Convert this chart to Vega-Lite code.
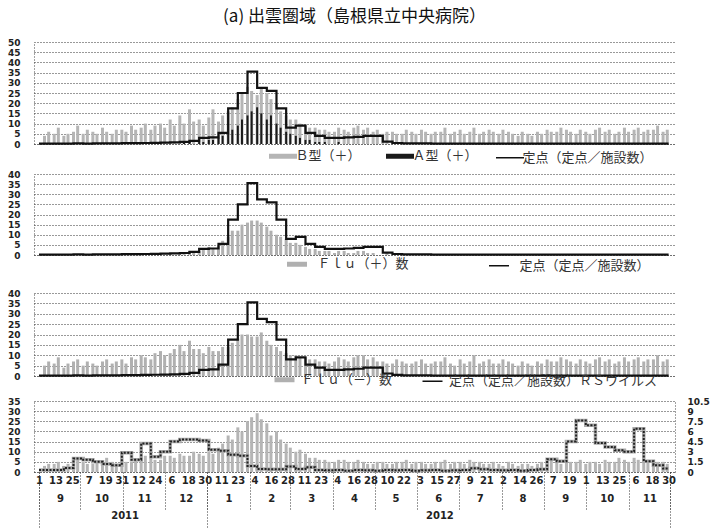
{
  "$schema": "https://vega.github.io/schema/vega-lite/v6.json",
  "padding": {"left": 7, "top": 8, "right": 0, "bottom": 0},
  "spacing": 0,
  "background": "white",
  "config": {
    "view": {"stroke": null},
    "axis": {"labelFont": "DejaVu Sans", "labelFontWeight": "bold", "labelFontSize": 9, "labelColor": "#222", "ticks": false, "domainColor": "#444", "domainDash": [1, 2], "labelOverlap": false},
    "legend": {"labelFont": "Noto Sans CJK JP", "labelFontSize": 13, "labelColor": "#333", "symbolType": "stroke", "orient": "none", "direction": "horizontal", "labelLimit": 400}
  },
  "resolve": {"scale": {"color": "independent", "x": "independent", "y": "independent"}, "legend": {"color": "independent"}},
  "datasets": {
    "bars": [
      {"d":"2011-09-05","b":4,"a":0,"p":0,"n":5,"m":3},{"d":"2011-09-08","b":6,"a":0,"p":0,"n":7,"m":4},
      {"d":"2011-09-12","b":5,"a":0,"p":0,"n":6,"m":4},{"d":"2011-09-15","b":8,"a":0,"p":0,"n":9,"m":5},
      {"d":"2011-09-19","b":4,"a":0,"p":0,"n":4,"m":3},{"d":"2011-09-22","b":5,"a":0,"p":0,"n":6,"m":4},
      {"d":"2011-09-26","b":6,"a":0,"p":0,"n":7,"m":4},{"d":"2011-09-29","b":9,"a":0,"p":0,"n":8,"m":6},
      {"d":"2011-10-03","b":5,"a":0,"p":0,"n":5,"m":5},{"d":"2011-10-06","b":7,"a":0,"p":0,"n":7,"m":4},
      {"d":"2011-10-10","b":6,"a":0,"p":0,"n":6,"m":4},{"d":"2011-10-13","b":5,"a":0,"p":0,"n":5,"m":5},
      {"d":"2011-10-17","b":8,"a":0,"p":0,"n":7,"m":5},{"d":"2011-10-20","b":6,"a":0,"p":0,"n":8,"m":7},
      {"d":"2011-10-24","b":5,"a":0,"p":0,"n":6,"m":5},{"d":"2011-10-27","b":7,"a":0,"p":0,"n":7,"m":4},
      {"d":"2011-10-31","b":7,"a":0,"p":0,"n":8,"m":6},{"d":"2011-11-03","b":6,"a":0,"p":0,"n":6,"m":5},
      {"d":"2011-11-07","b":9,"a":0,"p":0,"n":9,"m":5},{"d":"2011-11-10","b":7,"a":0,"p":0,"n":8,"m":6},
      {"d":"2011-11-14","b":8,"a":0,"p":0,"n":10,"m":6},{"d":"2011-11-17","b":10,"a":0,"p":0,"n":9,"m":8},
      {"d":"2011-11-21","b":7,"a":0,"p":0,"n":8,"m":7},{"d":"2011-11-24","b":9,"a":0,"p":0,"n":11,"m":6},
      {"d":"2011-11-28","b":10,"a":0,"p":0,"n":12,"m":6},{"d":"2011-12-01","b":8,"a":0,"p":0,"n":10,"m":8},
      {"d":"2011-12-05","b":12,"a":0,"p":1,"n":11,"m":8},{"d":"2011-12-08","b":9,"a":0,"p":0,"n":13,"m":7},
      {"d":"2011-12-12","b":14,"a":0,"p":1,"n":15,"m":9},{"d":"2011-12-15","b":10,"a":1,"p":1,"n":12,"m":8},
      {"d":"2011-12-19","b":17,"a":1,"p":2,"n":17,"m":8},{"d":"2011-12-22","b":11,"a":0,"p":1,"n":13,"m":10},
      {"d":"2011-12-26","b":12,"a":1,"p":2,"n":13,"m":9},{"d":"2011-12-29","b":9,"a":1,"p":3,"n":11,"m":8},
      {"d":"2012-01-02","b":13,"a":2,"p":4,"n":14,"m":10},{"d":"2012-01-05","b":17,"a":2,"p":3,"n":12,"m":9},
      {"d":"2012-01-09","b":11,"a":3,"p":5,"n":12,"m":12},{"d":"2012-01-12","b":14,"a":4,"p":7,"n":14,"m":14},
      {"d":"2012-01-16","b":16,"a":5,"p":9,"n":14,"m":18},{"d":"2012-01-19","b":18,"a":7,"p":12,"n":16,"m":16},
      {"d":"2012-01-23","b":22,"a":9,"p":12,"n":18,"m":22},{"d":"2012-01-26","b":25,"a":12,"p":15,"n":20,"m":20},
      {"d":"2012-01-30","b":28,"a":14,"p":16,"n":20,"m":25},{"d":"2012-02-02","b":26,"a":16,"p":17,"n":19,"m":27},
      {"d":"2012-02-06","b":24,"a":18,"p":17,"n":19,"m":29},{"d":"2012-02-09","b":27,"a":15,"p":16,"n":21,"m":26},
      {"d":"2012-02-13","b":25,"a":12,"p":14,"n":17,"m":24},{"d":"2012-02-16","b":22,"a":14,"p":12,"n":15,"m":18},
      {"d":"2012-02-20","b":20,"a":10,"p":10,"n":14,"m":20},{"d":"2012-02-23","b":16,"a":8,"p":9,"n":12,"m":16},
      {"d":"2012-02-27","b":14,"a":6,"p":8,"n":11,"m":14},{"d":"2012-03-01","b":12,"a":5,"p":6,"n":10,"m":12},
      {"d":"2012-03-05","b":12,"a":4,"p":6,"n":10,"m":10},{"d":"2012-03-08","b":10,"a":3,"p":5,"n":9,"m":11},
      {"d":"2012-03-12","b":9,"a":2,"p":4,"n":9,"m":9},{"d":"2012-03-15","b":8,"a":2,"p":3,"n":8,"m":7},
      {"d":"2012-03-19","b":8,"a":1,"p":3,"n":8,"m":7},{"d":"2012-03-22","b":7,"a":1,"p":2,"n":7,"m":6},
      {"d":"2012-03-26","b":7,"a":1,"p":2,"n":7,"m":6},{"d":"2012-03-29","b":6,"a":0,"p":2,"n":6,"m":5},
      {"d":"2012-04-02","b":6,"a":0,"p":1,"n":7,"m":5},{"d":"2012-04-05","b":8,"a":1,"p":2,"n":9,"m":6},
      {"d":"2012-04-09","b":7,"a":0,"p":2,"n":8,"m":6},{"d":"2012-04-12","b":6,"a":0,"p":1,"n":7,"m":5},
      {"d":"2012-04-16","b":8,"a":0,"p":1,"n":9,"m":5},{"d":"2012-04-19","b":9,"a":0,"p":2,"n":10,"m":6},
      {"d":"2012-04-23","b":7,"a":0,"p":2,"n":10,"m":5},{"d":"2012-04-26","b":8,"a":0,"p":1,"n":8,"m":4},
      {"d":"2012-04-30","b":6,"a":0,"p":1,"n":9,"m":4},{"d":"2012-05-03","b":7,"a":0,"p":0,"n":7,"m":5},
      {"d":"2012-05-07","b":5,"a":0,"p":0,"n":7,"m":5},{"d":"2012-05-10","b":6,"a":0,"p":1,"n":6,"m":4},
      {"d":"2012-05-14","b":6,"a":0,"p":0,"n":6,"m":4},{"d":"2012-05-17","b":5,"a":0,"p":0,"n":8,"m":5},
      {"d":"2012-05-21","b":5,"a":0,"p":0,"n":7,"m":5},{"d":"2012-05-24","b":7,"a":0,"p":0,"n":6,"m":6},
      {"d":"2012-05-28","b":6,"a":0,"p":0,"n":6,"m":4},{"d":"2012-05-31","b":5,"a":0,"p":0,"n":7,"m":5},
      {"d":"2012-06-04","b":7,"a":0,"p":0,"n":8,"m":5},{"d":"2012-06-07","b":6,"a":0,"p":0,"n":6,"m":4},
      {"d":"2012-06-11","b":5,"a":0,"p":0,"n":6,"m":4},{"d":"2012-06-14","b":6,"a":0,"p":0,"n":7,"m":5},
      {"d":"2012-06-18","b":6,"a":0,"p":0,"n":7,"m":5},{"d":"2012-06-21","b":8,"a":0,"p":0,"n":9,"m":6},
      {"d":"2012-06-25","b":5,"a":0,"p":0,"n":6,"m":4},{"d":"2012-06-28","b":6,"a":0,"p":0,"n":5,"m":5},
      {"d":"2012-07-02","b":7,"a":0,"p":0,"n":8,"m":5},{"d":"2012-07-05","b":5,"a":0,"p":0,"n":6,"m":4},
      {"d":"2012-07-09","b":6,"a":0,"p":0,"n":7,"m":6},{"d":"2012-07-12","b":8,"a":0,"p":0,"n":10,"m":5},
      {"d":"2012-07-16","b":5,"a":0,"p":0,"n":6,"m":5},{"d":"2012-07-19","b":6,"a":0,"p":0,"n":7,"m":4},
      {"d":"2012-07-23","b":7,"a":0,"p":0,"n":8,"m":4},{"d":"2012-07-26","b":6,"a":0,"p":0,"n":6,"m":5},
      {"d":"2012-07-30","b":5,"a":0,"p":0,"n":6,"m":4},{"d":"2012-08-02","b":7,"a":0,"p":0,"n":8,"m":3},
      {"d":"2012-08-06","b":6,"a":0,"p":0,"n":7,"m":5},{"d":"2012-08-09","b":5,"a":0,"p":0,"n":6,"m":4},
      {"d":"2012-08-13","b":4,"a":0,"p":0,"n":5,"m":3},{"d":"2012-08-16","b":6,"a":0,"p":0,"n":7,"m":4},
      {"d":"2012-08-20","b":5,"a":0,"p":0,"n":6,"m":4},{"d":"2012-08-23","b":4,"a":0,"p":0,"n":5,"m":3},
      {"d":"2012-08-27","b":6,"a":0,"p":0,"n":7,"m":4},{"d":"2012-08-30","b":5,"a":0,"p":0,"n":6,"m":5},
      {"d":"2012-09-03","b":7,"a":0,"p":0,"n":8,"m":5},{"d":"2012-09-06","b":6,"a":0,"p":0,"n":7,"m":6},
      {"d":"2012-09-10","b":6,"a":0,"p":0,"n":7,"m":5},{"d":"2012-09-13","b":8,"a":0,"p":0,"n":9,"m":4},
      {"d":"2012-09-17","b":7,"a":0,"p":0,"n":8,"m":6},{"d":"2012-09-20","b":6,"a":0,"p":0,"n":7,"m":5},
      {"d":"2012-09-24","b":5,"a":0,"p":0,"n":6,"m":5},{"d":"2012-09-27","b":7,"a":0,"p":0,"n":8,"m":6},
      {"d":"2012-10-01","b":6,"a":0,"p":0,"n":7,"m":4},{"d":"2012-10-04","b":5,"a":0,"p":0,"n":6,"m":5},
      {"d":"2012-10-08","b":7,"a":0,"p":0,"n":8,"m":5},{"d":"2012-10-11","b":8,"a":0,"p":0,"n":9,"m":4},
      {"d":"2012-10-15","b":6,"a":0,"p":0,"n":7,"m":6},{"d":"2012-10-18","b":7,"a":0,"p":0,"n":8,"m":5},
      {"d":"2012-10-22","b":5,"a":0,"p":0,"n":6,"m":5},{"d":"2012-10-25","b":6,"a":0,"p":0,"n":7,"m":7},
      {"d":"2012-10-29","b":8,"a":0,"p":0,"n":9,"m":6},{"d":"2012-11-01","b":6,"a":0,"p":0,"n":7,"m":5},
      {"d":"2012-11-05","b":7,"a":0,"p":0,"n":8,"m":7},{"d":"2012-11-08","b":8,"a":0,"p":0,"n":9,"m":6},
      {"d":"2012-11-12","b":6,"a":0,"p":0,"n":7,"m":5},{"d":"2012-11-15","b":7,"a":0,"p":0,"n":8,"m":6},
      {"d":"2012-11-19","b":7,"a":0,"p":0,"n":8,"m":6},{"d":"2012-11-22","b":9,"a":0,"p":0,"n":10,"m":5},
      {"d":"2012-11-26","b":6,"a":0,"p":0,"n":7,"m":5},{"d":"2012-11-29","b":7,"a":0,"p":0,"n":8,"m":4}
    ],
    "weekly": [
      {"d":"2011-09-01","f":0.2,"r":0.3},{"d":"2011-09-05","f":0.2,"r":0.3},{"d":"2011-09-12","f":0.2,"r":0.3},
      {"d":"2011-09-19","f":0.2,"r":0.6},{"d":"2011-09-26","f":0.3,"r":2.0},{"d":"2011-10-03","f":0.2,"r":1.8},
      {"d":"2011-10-10","f":0.3,"r":1.5},{"d":"2011-10-17","f":0.3,"r":1.2},{"d":"2011-10-24","f":0.3,"r":1.0},
      {"d":"2011-10-31","f":0.4,"r":2.85},{"d":"2011-11-07","f":0.4,"r":1.8},{"d":"2011-11-14","f":0.5,"r":4.2},
      {"d":"2011-11-21","f":0.6,"r":2.25},{"d":"2011-11-28","f":0.7,"r":3.0},{"d":"2011-12-05","f":0.8,"r":4.5},
      {"d":"2011-12-12","f":1.0,"r":4.8},{"d":"2011-12-19","f":1.5,"r":4.8},{"d":"2011-12-26","f":3.0,"r":4.65},
      {"d":"2012-01-02","f":3.2,"r":3.3},{"d":"2012-01-09","f":5.5,"r":3.15},{"d":"2012-01-16","f":17.5,"r":2.55},
      {"d":"2012-01-23","f":25,"r":2.4},{"d":"2012-01-30","f":35.5,"r":0.9},{"d":"2012-02-06","f":27.5,"r":0.45},
      {"d":"2012-02-13","f":26,"r":0.4},{"d":"2012-02-20","f":17.5,"r":0.4},{"d":"2012-02-27","f":8,"r":0.8},
      {"d":"2012-03-05","f":9,"r":0.45},{"d":"2012-03-12","f":5.5,"r":0.7},{"d":"2012-03-19","f":4,"r":0.3},
      {"d":"2012-03-26","f":3,"r":0.25},{"d":"2012-04-02","f":3,"r":0.3},{"d":"2012-04-09","f":3.2,"r":0.2},
      {"d":"2012-04-16","f":3.5,"r":0.3},{"d":"2012-04-23","f":4,"r":0.25},{"d":"2012-04-30","f":4,"r":0.2},
      {"d":"2012-05-07","f":1.2,"r":0.3},{"d":"2012-05-14","f":0.5,"r":0.25},{"d":"2012-05-21","f":0.3,"r":0.3},
      {"d":"2012-05-28","f":0.3,"r":0.2},{"d":"2012-06-04","f":0.3,"r":0.25},{"d":"2012-06-11","f":0.2,"r":0.3},
      {"d":"2012-06-18","f":0.2,"r":0.2},{"d":"2012-06-25","f":0.2,"r":0.25},{"d":"2012-07-02","f":0.2,"r":0.3},
      {"d":"2012-07-09","f":0.2,"r":0.55},{"d":"2012-07-16","f":0.2,"r":0.4},{"d":"2012-07-23","f":0.2,"r":0.3},
      {"d":"2012-07-30","f":0.2,"r":0.25},{"d":"2012-08-06","f":0.2,"r":0.3},{"d":"2012-08-13","f":0.2,"r":0.2},
      {"d":"2012-08-20","f":0.2,"r":0.3},{"d":"2012-08-27","f":0.2,"r":0.4},{"d":"2012-09-03","f":0.2,"r":1.9},
      {"d":"2012-09-10","f":0.2,"r":1.6},{"d":"2012-09-17","f":0.2,"r":4.5},{"d":"2012-09-24","f":0.2,"r":7.6},
      {"d":"2012-10-01","f":0.2,"r":6.9},{"d":"2012-10-08","f":0.2,"r":4.3},{"d":"2012-10-15","f":0.2,"r":3.7},
      {"d":"2012-10-22","f":0.2,"r":3.2},{"d":"2012-10-29","f":0.2,"r":3.0},{"d":"2012-11-05","f":0.2,"r":6.4},
      {"d":"2012-11-12","f":0.2,"r":1.6},{"d":"2012-11-19","f":0.2,"r":1.0},{"d":"2012-11-26","f":0.2,"r":0.5},
      {"d":"2012-11-30","f":0.2,"r":0.5}
    ]
  },
  "vconcat": [
    {
      "width": 641, "height": 102,
      "title": {"text": "(a) 出雲圏域（島根県立中央病院）", "font": "Noto Sans CJK JP", "fontSize": 17, "fontWeight": "normal", "color": "#111", "offset": 12, "anchor": "middle"},
      "resolve": {"axis": {"x": "independent", "y": "independent"}},
      "layer": [
        {"data": {"name": "bars"}, "mark": {"type": "bar", "size": 3},
         "encoding": {
           "x": {"field": "d", "type": "temporal", "scale": {"type": "utc", "domain": [{"year": 2011, "month": 9, "date": 1, "utc": true}, {"year": 2012, "month": 12, "date": 1, "utc": true}]}, "axis": {"orient": "bottom", "labels": false, "ticks": false, "grid": false, "domain": true, "title": null}},
           "y": {"field": "b", "type": "quantitative", "scale": {"domain": [0, 50]}, "axis": {"orient": "left", "values": [0,5,10,15,20,25,30,35,40,45,50], "grid": true, "gridColor": "#333", "gridDash": [1, 2], "gridWidth": 1, "gridOpacity": 1, "labelPadding": 14, "title": null}},
           "color": {"datum": "Ｂ型（＋）", "scale": {"domain": ["Ｂ型（＋）", "Ａ型（＋）", "定点（定点／施設数）"], "range": ["#b5b5b5", "#1a1a1a", "#111111"]},
             "legend": {"title": null, "legendX": 239, "legendY": 104, "padding": 3.5, "symbolSize": 784, "labelOffset": 6, "columnPadding": 14,
               "encode": {"symbols": {"update": {"stroke": {"signal": "datum.value === 'Ｂ型（＋）' ? '#9a9a9a' : '#111'"}, "strokeWidth": {"signal": "datum.value === '定点（定点／施設数）' ? 1.5 : 5"}, "opacity": {"value": 1}}}}}}
         }},
        {"data": {"name": "bars"}, "mark": {"type": "bar", "size": 2},
         "encoding": {
           "x": {"field": "d", "type": "temporal", "axis": null},
           "y": {"field": "a", "type": "quantitative", "axis": null},
           "color": {"datum": "Ａ型（＋）"}
         }},
        {"data": {"name": "weekly"}, "mark": {"type": "line", "interpolate": "step-after", "strokeWidth": 2.2},
         "encoding": {
           "x": {"field": "d", "type": "temporal", "axis": null},
           "y": {"field": "f", "type": "quantitative", "axis": null},
           "color": {"datum": "定点（定点／施設数）"}
         }}
      ]
    },
    {
      "width": 641, "height": 81,
      "resolve": {"axis": {"x": "independent", "y": "independent"}},
      "layer": [
        {"data": {"name": "bars"}, "mark": {"type": "bar", "size": 3},
         "encoding": {
           "x": {"field": "d", "type": "temporal", "scale": {"type": "utc", "domain": [{"year": 2011, "month": 9, "date": 1, "utc": true}, {"year": 2012, "month": 12, "date": 1, "utc": true}]}, "axis": {"orient": "bottom", "labels": false, "ticks": false, "grid": false, "domain": true, "title": null}},
           "y": {"field": "p", "type": "quantitative", "scale": {"domain": [0, 40]}, "axis": {"orient": "left", "values": [0,5,10,15,20,25,30,35,40], "grid": true, "gridColor": "#333", "gridDash": [1, 2], "gridWidth": 1, "gridOpacity": 1, "labelPadding": 14, "title": null}},
           "color": {"datum": "Ｆｌｕ（＋）数", "scale": {"domain": ["Ｆｌｕ（＋）数", "定点（定点／施設数）"], "range": ["#b0b0b0", "#111111"]},
             "legend": {"title": null, "legendX": 242, "legendY": 69, "padding": 14.5, "symbolSize": 400, "labelOffset": 14, "columnPadding": 76,
               "encode": {"symbols": {"update": {"stroke": {"signal": "datum.value === 'Ｆｌｕ（＋）数' ? '#9a9a9a' : '#111'"}, "strokeWidth": {"signal": "datum.value === 'Ｆｌｕ（＋）数' ? 5 : 1.5"}, "opacity": {"value": 1}}}}}}
         }},
        {"data": {"name": "weekly"}, "mark": {"type": "line", "interpolate": "step-after", "strokeWidth": 2.2},
         "encoding": {
           "x": {"field": "d", "type": "temporal", "axis": null},
           "y": {"field": "f", "type": "quantitative", "axis": null},
           "color": {"datum": "定点（定点／施設数）"}
         }}
      ]
    },
    {
      "width": 641, "height": 83,
      "resolve": {"axis": {"x": "independent", "y": "independent"}},
      "layer": [
        {"data": {"name": "bars"}, "mark": {"type": "bar", "size": 3},
         "encoding": {
           "x": {"field": "d", "type": "temporal", "scale": {"type": "utc", "domain": [{"year": 2011, "month": 9, "date": 1, "utc": true}, {"year": 2012, "month": 12, "date": 1, "utc": true}]}, "axis": {"orient": "bottom", "labels": false, "ticks": false, "grid": false, "domain": true, "title": null}},
           "y": {"field": "n", "type": "quantitative", "scale": {"domain": [0, 40]}, "axis": {"orient": "left", "values": [0,5,10,15,20,25,30,35,40], "grid": true, "gridColor": "#333", "gridDash": [1, 2], "gridWidth": 1, "gridOpacity": 1, "labelPadding": 14, "title": null}},
           "color": {"datum": "Ｆｌｕ（－）数", "scale": {"domain": ["Ｆｌｕ（－）数", "定点（定点／施設数）ＲＳウイルス"], "range": ["#b0b0b0", "#111111"]},
             "legend": {"title": null, "legendX": 237, "legendY": 73, "padding": 7, "symbolSize": 400, "labelOffset": 10, "columnPadding": 26,
               "encode": {"symbols": {"update": {"stroke": {"signal": "datum.value === 'Ｆｌｕ（－）数' ? '#9a9a9a' : '#111'"}, "strokeWidth": {"signal": "datum.value === 'Ｆｌｕ（－）数' ? 5 : 1.5"}, "opacity": {"value": 1}}}}}}
         }},
        {"data": {"name": "weekly"}, "mark": {"type": "line", "interpolate": "step-after", "strokeWidth": 2.2},
         "encoding": {
           "x": {"field": "d", "type": "temporal", "axis": null},
           "y": {"field": "f", "type": "quantitative", "axis": null},
           "color": {"datum": "定点（定点／施設数）ＲＳウイルス"}
         }}
      ]
    },
    {
      "width": 641, "height": 71,
      "resolve": {"scale": {"y": "independent"}, "axis": {"x": "independent", "y": "independent"}},
      "layer": [
        {"data": {"name": "bars"}, "mark": {"type": "bar", "size": 3, "color": "#b5b5b5"},
         "encoding": {
           "x": {"field": "d", "type": "temporal", "scale": {"type": "utc", "domain": [{"year": 2011, "month": 9, "date": 1, "utc": true}, {"year": 2012, "month": 12, "date": 1, "utc": true}]},
             "axis": {"orient": "bottom", "title": null, "grid": false, "ticks": false, "labelPadding": 3, "labelFontSize": 10, "labelOverlap": false, "labelFlush": false, "labelBound": false,
               "labelExpr": "'' + utcdate(datum.value)",
               "values": [
                 {"year":2011,"month":9,"date":1,"utc":true},{"year":2011,"month":9,"date":13,"utc":true},{"year":2011,"month":9,"date":25,"utc":true},
                 {"year":2011,"month":10,"date":7,"utc":true},{"year":2011,"month":10,"date":19,"utc":true},{"year":2011,"month":10,"date":31,"utc":true},
                 {"year":2011,"month":11,"date":12,"utc":true},{"year":2011,"month":11,"date":24,"utc":true},
                 {"year":2011,"month":12,"date":6,"utc":true},{"year":2011,"month":12,"date":18,"utc":true},{"year":2011,"month":12,"date":30,"utc":true},
                 {"year":2012,"month":1,"date":11,"utc":true},{"year":2012,"month":1,"date":23,"utc":true},
                 {"year":2012,"month":2,"date":4,"utc":true},{"year":2012,"month":2,"date":16,"utc":true},{"year":2012,"month":2,"date":28,"utc":true},
                 {"year":2012,"month":3,"date":11,"utc":true},{"year":2012,"month":3,"date":23,"utc":true},
                 {"year":2012,"month":4,"date":4,"utc":true},{"year":2012,"month":4,"date":16,"utc":true},{"year":2012,"month":4,"date":28,"utc":true},
                 {"year":2012,"month":5,"date":10,"utc":true},{"year":2012,"month":5,"date":22,"utc":true},
                 {"year":2012,"month":6,"date":3,"utc":true},{"year":2012,"month":6,"date":15,"utc":true},{"year":2012,"month":6,"date":27,"utc":true},
                 {"year":2012,"month":7,"date":9,"utc":true},{"year":2012,"month":7,"date":21,"utc":true},
                 {"year":2012,"month":8,"date":2,"utc":true},{"year":2012,"month":8,"date":14,"utc":true},{"year":2012,"month":8,"date":26,"utc":true},
                 {"year":2012,"month":9,"date":7,"utc":true},{"year":2012,"month":9,"date":19,"utc":true},
                 {"year":2012,"month":10,"date":1,"utc":true},{"year":2012,"month":10,"date":13,"utc":true},{"year":2012,"month":10,"date":25,"utc":true},
                 {"year":2012,"month":11,"date":6,"utc":true},{"year":2012,"month":11,"date":18,"utc":true},{"year":2012,"month":11,"date":30,"utc":true}
               ]}},
           "y": {"field": "m", "type": "quantitative", "scale": {"domain": [0, 35]}, "axis": {"orient": "left", "values": [0,5,10,15,20,25,30,35], "grid": true, "gridColor": "#333", "gridDash": [1, 2], "gridWidth": 1, "gridOpacity": 1, "labelPadding": 14, "title": null}}
         }},
        {"data": {"name": "weekly"}, "mark": {"type": "line", "interpolate": "step-after", "strokeWidth": 3.5, "color": "#aaaaaa"},
         "encoding": {
           "x": {"field": "d", "type": "temporal",
             "axis": {"orient": "bottom", "title": null, "grid": false, "domain": false, "ticks": true, "tickSize": 57, "tickDash": [1, 2],
               "tickColor": {"condition": {"test": "utcdate(datum.value) != 1", "value": "transparent"}, "value": "#333"},
               "labelPadding": -19, "labelFontSize": 10, "labelOverlap": false, "labelFlush": false, "labelBound": false,
               "labelExpr": "utcdate(datum.value) == 1 ? '' : '' + utcyear(datum.value)",
               "values": [{"year":2011,"month":9,"date":1,"utc":true},{"year":2011,"month":11,"date":2,"utc":true},{"year":2012,"month":1,"date":1,"utc":true},{"year":2012,"month":6,"date":17,"utc":true},{"year":2012,"month":12,"date":1,"utc":true}]}},
           "y": {"field": "r", "type": "quantitative", "scale": {"domain": [0, 10.5]}, "axis": null}
         }},
        {"data": {"name": "weekly"}, "mark": {"type": "line", "interpolate": "step-after", "strokeWidth": 2, "color": "#222222", "strokeDash": [2, 1.5]},
         "encoding": {
           "x": {"field": "d", "type": "temporal",
             "axis": {"orient": "bottom", "title": null, "grid": false, "domain": false, "ticks": true, "tickSize": 37, "tickColor": "#333", "tickDash": [1, 2], "labelPadding": -16, "labelOffset": 21, "labelFontSize": 10, "labelOverlap": false, "labelFlush": false, "labelBound": false,
               "labelExpr": "(utcyear(datum.value) == 2012 && utcmonth(datum.value) == 11) ? '' : '' + (utcmonth(datum.value) + 1)",
               "values": [
                 {"year":2011,"month":9,"date":1,"utc":true},{"year":2011,"month":10,"date":1,"utc":true},{"year":2011,"month":11,"date":1,"utc":true},{"year":2011,"month":12,"date":1,"utc":true},
                 {"year":2012,"month":1,"date":1,"utc":true},{"year":2012,"month":2,"date":1,"utc":true},{"year":2012,"month":3,"date":1,"utc":true},{"year":2012,"month":4,"date":1,"utc":true},
                 {"year":2012,"month":5,"date":1,"utc":true},{"year":2012,"month":6,"date":1,"utc":true},{"year":2012,"month":7,"date":1,"utc":true},{"year":2012,"month":8,"date":1,"utc":true},
                 {"year":2012,"month":9,"date":1,"utc":true},{"year":2012,"month":10,"date":1,"utc":true},{"year":2012,"month":11,"date":1,"utc":true},{"year":2012,"month":12,"date":1,"utc":true}
               ]}},
           "y": {"field": "r", "type": "quantitative", "scale": {"domain": [0, 10.5]}, "axis": {"orient": "right", "values": [0,1.5,3,4.5,6,7.5,9,10.5], "format": ".3~g", "grid": false, "domain": true, "labelPadding": 12, "title": null}}
         }}
      ]
    }
  ]
}
